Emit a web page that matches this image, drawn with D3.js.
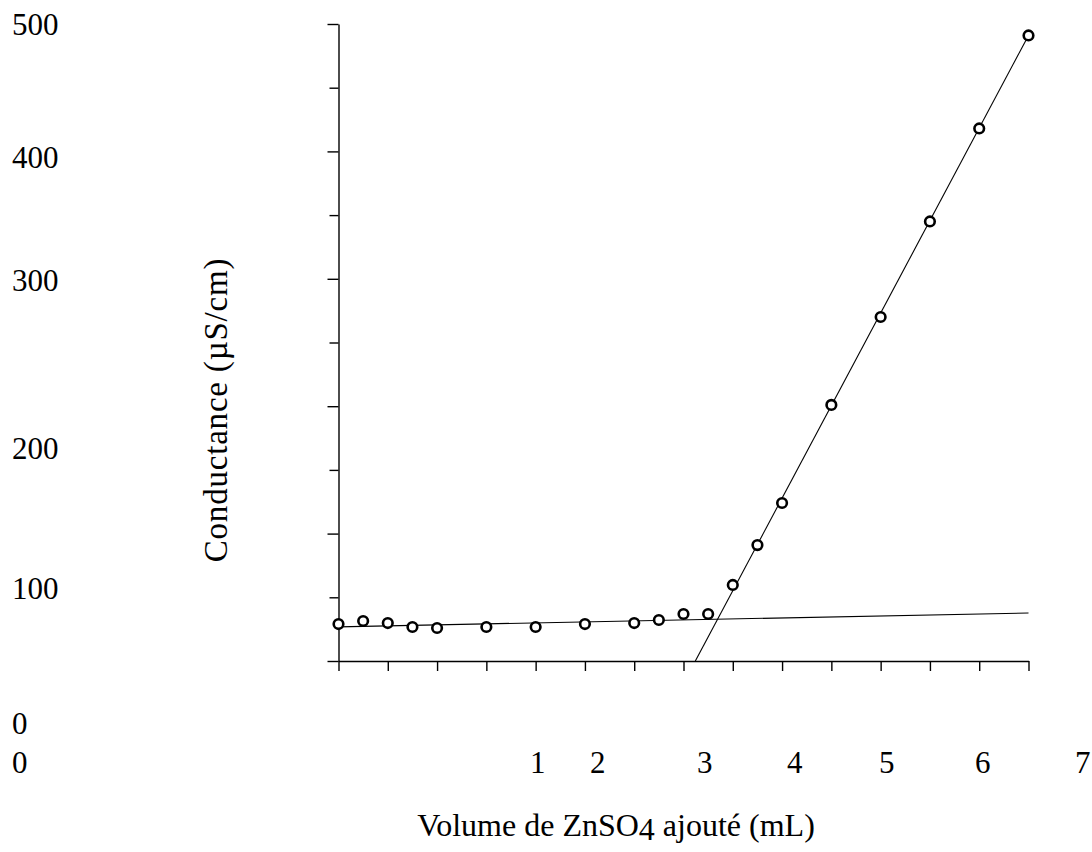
<!DOCTYPE html>
<html>
<head>
<meta charset="utf-8">
<script src="https://cdn.jsdelivr.net/npm/d3@7"></script>
<style>
  html, body { margin: 0; padding: 0; background: #fff; }
  svg text { font-family: "Liberation Serif", "Times New Roman", serif; fill: #000; }
</style>
</head>
<body>
<svg id="chart" width="1092" height="852"></svg>
<script>
// ---- data ----
const volumes = [0, 0.25, 0.5, 0.75, 1, 1.5, 2, 2.5, 3, 3.25, 3.5, 3.75, 4, 4.25, 4.5, 5, 5.5, 6, 6.5, 7];
const conductances = [29, 31.4, 29.8, 26.7, 25.9, 26.7, 26.7, 29, 29.8, 32.2, 36.9, 36.9, 59.7, 91, 124, 201, 270, 345, 418, 491];
const fitFlatX = [0, 7];
const fitFlatY = [26.8, 37.7];
const fitSteepX = [3.62, 7];
const fitSteepY = [0, 491];
const yTickLabels = ["500", "400", "300", "200", "100", "0"];
const xTickLabels = ["0", "1", "2", "3", "4", "5", "6", "7"];
const yTitle = "Conductance (µS/cm)";

// ---- layout (label placements as in the source figure) ----
const yLabelBaselines = [35, 168, 291, 459, 599, 734];
const xLabelLefts = [12, 530, 590, 697, 787, 879, 975, 1075];
const xLabelBaseline = 773;

const svg = d3.select("#chart");
const x = d3.scaleLinear().domain([0, 7]).range([338.5, 1028.5]);
const y = d3.scaleLinear().domain([0, 500]).range([661, 24]);

// y axis: major ticks (100) and minor ticks (50)
svg.append("g")
  .attr("transform", `translate(${x(0)},0)`)
  .call(d3.axisLeft(y).tickValues(d3.range(0, 501, 100)).tickSize(11).tickSizeOuter(0).tickFormat(""))
  .call(g => g.selectAll("path, line").attr("stroke", "#000").attr("stroke-width", 1.4));
svg.append("g")
  .attr("transform", `translate(${x(0)},0)`)
  .call(d3.axisLeft(y).tickValues(d3.range(50, 500, 100)).tickSize(9).tickSizeOuter(0).tickFormat(""))
  .call(g => g.select(".domain").remove())
  .call(g => g.selectAll("line").attr("stroke", "#000").attr("stroke-width", 1.4));

// x axis
svg.append("g")
  .attr("transform", `translate(0,${y(0)})`)
  .call(d3.axisBottom(x).tickValues(d3.range(0, 7.01, 0.5)).tickSize(10).tickSizeOuter(0).tickFormat(""))
  .call(g => g.selectAll("path, line").attr("stroke", "#000").attr("stroke-width", 1.4));

// tick labels
svg.append("g").selectAll("text").data(yTickLabels).join("text")
  .attr("x", 12).attr("y", (d, i) => yLabelBaselines[i])
  .attr("font-size", 31).text(d => d);
svg.append("g").selectAll("text").data(xTickLabels).join("text")
  .attr("x", (d, i) => xLabelLefts[i]).attr("y", xLabelBaseline)
  .attr("font-size", 31).text(d => d);

// fit lines
const line = d3.line().x(d => x(d[0])).y(d => y(d[1]));
svg.append("path").datum(d3.zip(fitFlatX, fitFlatY))
  .attr("d", line).attr("fill", "none").attr("stroke", "#000").attr("stroke-width", 1.1);
svg.append("path").datum(d3.zip(fitSteepX, fitSteepY))
  .attr("d", line).attr("fill", "none").attr("stroke", "#000").attr("stroke-width", 1.1);

// points
svg.append("g").selectAll("circle").data(d3.zip(volumes, conductances)).join("circle")
  .attr("cx", d => x(d[0])).attr("cy", d => y(d[1])).attr("r", 4.8)
  .attr("fill", "#fff").attr("stroke", "#000").attr("stroke-width", 2.6);

// axis titles
svg.append("text")
  .attr("transform", `translate(227,410) rotate(-90)`)
  .attr("text-anchor", "middle").attr("font-size", 33)
  .attr("letter-spacing", 0.8).text(yTitle);
const xt = svg.append("text")
  .attr("x", 616).attr("y", 836).attr("text-anchor", "middle").attr("font-size", 32);
xt.append("tspan").text("Volume de ZnSO");
xt.append("tspan").attr("dy", 4).text("4");
xt.append("tspan").attr("dy", -4).text(" ajouté (mL)");
</script>
</body>
</html>
